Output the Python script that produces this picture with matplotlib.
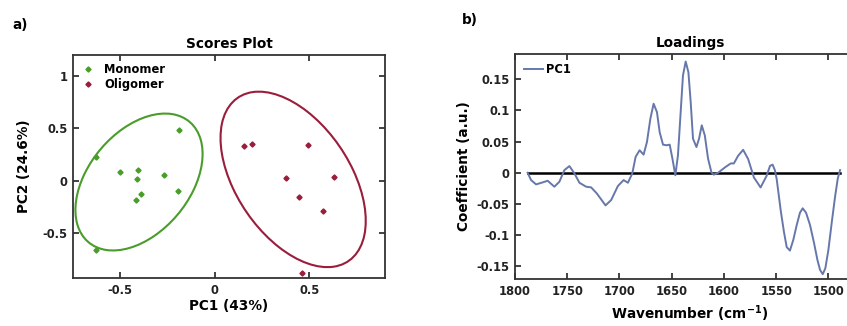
import matplotlib
matplotlib.use("Agg")
import matplotlib.pyplot as plt
from matplotlib.patches import Ellipse

plt.rcParams["font.family"] = ["DejaVu Sans"]
plt.rcParams["font.weight"] = "bold"
plt.rcParams["mathtext.default"] = "bf"

# ---- panel a) scores
mono_x = [-0.626, -0.500, -0.404, -0.414, -0.391, -0.416, -0.268, -0.188, -0.197, -0.626]
mono_y = [0.229, 0.079, 0.105, 0.016, -0.127, -0.181, 0.054, 0.486, -0.102, -0.660]
olig_x = [0.154, 0.196, 0.493, 0.375, 0.628, 0.444, 0.570, 0.460]
olig_y = [0.333, 0.352, 0.337, 0.025, 0.035, -0.159, -0.286, -0.879]
# confidence ellipses: center x, center y, width, height, angle (deg)
mono_ell = [-0.401, -0.013, 1.344, 0.597, 75.1]
olig_ell = [0.414, 0.012, 1.722, 0.659, 104.35]

# ---- panel b) PC1 loadings
wavenumber = [1787.9, 1784.6, 1779.8, 1773.5, 1768.7, 1762.3, 1757.5, 1752.7, 1747.9, 1743.1,
              1738.3, 1731.9, 1727.1, 1721.7, 1713.3, 1707.9, 1701.5, 1696.0, 1691.9, 1687.7,
              1684.5, 1680.7, 1676.9, 1673.7, 1670.4, 1667.3, 1664.1, 1661.5, 1658.3, 1655.1,
              1651.9, 1649.3, 1646.5, 1644.0, 1641.4, 1639.2, 1636.6, 1634.0, 1631.8, 1629.6,
              1626.3, 1623.8, 1621.2, 1618.3, 1615.2, 1611.9, 1609.7, 1605.6, 1598.2, 1593.4,
              1590.5, 1586.4, 1581.6, 1576.8, 1571.3, 1564.9, 1559.1, 1555.9, 1553.4, 1551.2,
              1549.5, 1545.5, 1542.5, 1539.9, 1536.8, 1533.6, 1530.3, 1527.2, 1524.6, 1521.4,
              1517.6, 1513.7, 1510.5, 1508.0, 1505.4, 1502.9, 1500.0, 1496.7, 1493.6, 1491.0,
              1488.8]
pc1 = [0.000, -0.0117, -0.0186, -0.0154, -0.0128, -0.0223, -0.0144, 0.0043, 0.0107, -0.001,
       -0.016, -0.0223, -0.0234, -0.033, -0.0522, -0.0436, -0.0212, -0.0117, -0.016, -0.001,
       0.0256, 0.036, 0.029, 0.049, 0.0866, 0.1105, 0.0971, 0.065, 0.045, 0.044,
       0.045, 0.0227, -0.004, 0.028, 0.0971, 0.1557, 0.178, 0.161, 0.113, 0.0546,
       0.0412, 0.0546, 0.0759, 0.0599, 0.0227, 0.0003, -0.003, 0.000, 0.0096, 0.015,
       0.0149, 0.0272, 0.0367, 0.0219, -0.0075, -0.0235, -0.0048, 0.011, 0.013, 0.004,
       -0.010, -0.062, -0.095, -0.119, -0.1245, -0.1075, -0.0835, -0.0639, -0.0569, -0.0639,
       -0.0835, -0.1128, -0.1395, -0.1554, -0.1623, -0.1527, -0.1235, -0.0783, -0.0383, -0.009,
       0.0043]

GREEN = "#4a9c2b"
RED = "#9a1d3c"
BLUE = "#6678ab"


def style_axes(ax):
    ax.tick_params(direction="in", top=True, right=True, labelsize=8.3,
                   length=4, width=1.2, colors="#222222", pad=4)
    for s in ax.spines.values():
        s.set_linewidth(1.3)
        s.set_color("#333333")


fig = plt.figure(figsize=(8.47, 3.26), dpi=100)

# a) scores plot
ax1 = fig.add_axes([0.0862, 0.1472, 0.3684, 0.684])
ax1.plot(mono_x, mono_y, "D", color=GREEN, markersize=2.6, label="Monomer")
ax1.plot(olig_x, olig_y, "D", color=RED, markersize=2.6, label="Oligomer")
for ell, c in [(mono_ell, GREEN), (olig_ell, RED)]:
    ax1.add_patch(Ellipse((ell[0], ell[1]), ell[2], ell[3], angle=ell[4],
                          fill=False, edgecolor=c, linewidth=1.5))
ax1.set_xlim(-0.75, 0.9)
ax1.set_ylim(-0.93, 1.2)
ax1.set_xticks([-0.5, 0, 0.5])
ax1.set_xticklabels(["-0.5", "0", "0.5"])
ax1.set_yticks([-0.5, 0, 0.5, 1])
ax1.set_yticklabels(["-0.5", "0", "0.5", "1"])
style_axes(ax1)
ax1.set_title("Scores Plot", fontsize=9.8, fontweight="bold", pad=5)
ax1.set_xlabel("PC1 (43%)", fontsize=9.8, fontweight="bold", labelpad=2)
ax1.set_ylabel("PC2 (24.6%)", fontsize=9.8, fontweight="bold", labelpad=8)
ax1.legend(loc="upper left", frameon=False, fontsize=8.3, handlelength=1.2,
           handletextpad=0.8, borderaxespad=0.3, labelspacing=0.2)

# b) loadings (axes box runs past the right edge of the figure, as in the original)
ax2 = fig.add_axes([0.608, 0.1442, 0.4132, 0.690])
ax2.plot([wavenumber[0], wavenumber[-1]], [0, 0], color="black", linewidth=1.8, zorder=1)
ax2.plot(wavenumber, pc1, color=BLUE, linewidth=1.4, label="PC1", zorder=2)
ax2.set_xlim(1800, 1465)
ax2.set_ylim(-0.17, 0.19)
ax2.set_xticks([1800, 1750, 1700, 1650, 1600, 1550, 1500])
ax2.set_yticks([-0.15, -0.1, -0.05, 0, 0.05, 0.1, 0.15])
ax2.set_yticklabels(["-0.15", "-0.1", "-0.05", "0", "0.05", "0.1", "0.15"])
style_axes(ax2)
ax2.set_title("Loadings", fontsize=9.8, fontweight="bold", pad=5)
ax2.set_xlabel("Wavenumber (cm$^{-1}$)", fontsize=9.8, fontweight="bold", labelpad=4)
ax2.set_ylabel("Coefficient (a.u.)", fontsize=9.8, fontweight="bold", labelpad=4)
ax2.legend(handles=ax2.get_lines()[1:], loc="upper left", frameon=False, fontsize=8.3,
           handlelength=1.6, handletextpad=0.3, borderaxespad=0.4)

fig.text(12 / 847, 1 - 25 / 326, "a)", fontsize=9.8, fontweight="bold", va="center")
fig.text(462 / 847, 1 - 20 / 326, "b)", fontsize=9.8, fontweight="bold", va="center")

fig.savefig("out.png", dpi=100)
